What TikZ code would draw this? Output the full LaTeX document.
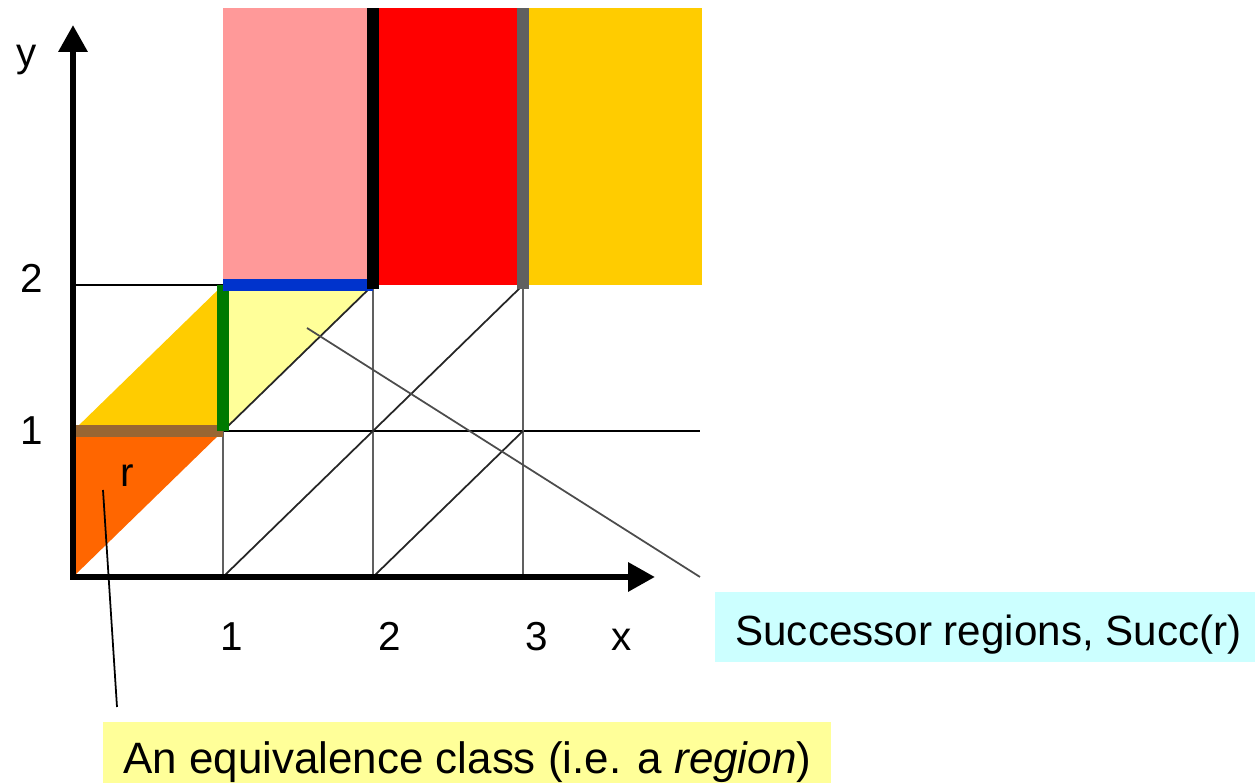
\documentclass[tikz,border=0pt]{standalone}
\usepackage{fontspec}
\setmainfont{Liberation Sans}
\usetikzlibrary{arrows.meta}

\definecolor{regionorange}{HTML}{FF6600}
\definecolor{regiongold}{HTML}{FFCC00}
\definecolor{regionlight}{HTML}{FFFF99}
\definecolor{regionpink}{HTML}{FF9999}
\definecolor{regionred}{HTML}{FF0000}
\definecolor{edgebrown}{HTML}{996633}
\definecolor{edgegreen}{HTML}{007A00}
\definecolor{edgeblue}{HTML}{0033CC}
\definecolor{edgegray}{HTML}{606060}
\definecolor{notecyan}{HTML}{CCFFFF}
\definecolor{noteyellow}{HTML}{FFFF99}

\tikzset{
  % clock-region grid
  hline/.style    = { line width=1pt, black },
  vline/.style    = { line width=1pt, gray!75!black },
  diagline/.style = { line width=1pt, black!85 },
  bound/.style    = { line width=6.5pt },
  axisline/.style = { line width=3.6pt, line join=miter,
                      {Triangle[length=0.54cm,width=0.56cm]}-{Triangle[length=0.54cm,width=0.56cm]} },
  pointer/.style  = { line width=1pt },
  % labels and notes
  ticklabel/.style = { font=\fontsize{23}{26}\selectfont, inner sep=0 },
  notebox/.style   = { font=\fontsize{24}{28}\selectfont, inner xsep=0.4cm,
                       inner ysep=0, anchor=north west }
}

\begin{document}
\begin{tikzpicture}

  \clip (-1.46,-4.12) rectangle (23.64,11.54);

  % --- regions ---------------------------------------------------
  \fill[regionorange] (0,0) -- (0,2.92) -- (3,2.92) -- cycle;
  \fill[regiongold]   (0,2.92) -- (3,5.84) -- (3,2.92) -- cycle;
  \fill[regionlight]  (3,2.92) -- (3,5.84) -- (6,5.84) -- cycle;
  \fill[regionpink]   (3,5.84) rectangle (6,11.38);
  \fill[regionred]    (6,5.84) rectangle (9,11.38);
  \fill[regiongold]   (9,5.84) rectangle (12.58,11.38);

  % --- grid --------------------------------------------------------
  \draw[hline] (0,2.92) -- (12.54,2.92);
  \draw[hline] (0,5.84) -- (3,5.84);
  \foreach \x in {3,6,9}
    \draw[vline] (\x,0) -- (\x,5.84);
  \draw[diagline] (3,2.92) -- (6,5.84);
  \draw[diagline] (3,0) -- (9,5.84);
  \draw[diagline] (6,0) -- (9,2.92);

  % --- region boundaries ---------------------------------------
  \draw[bound, edgebrown] (0,2.92) -- (3,2.92);
  \draw[bound, edgegreen] (3,2.92) -- (3,5.84);
  \draw[bound, edgeblue]  (3,5.84) -- (6,5.84);
  \draw[bound, black]     (6,5.76) -- (6,11.38);
  \draw[bound, edgegray]  (9,5.76) -- (9,11.38);

  % --- axes ------------------------------------------------------
  \draw[axisline] (0,11.04) -- (0,0) -- (11.64,0);

  \node[ticklabel, anchor=base] (ylab) at (-0.92,10.2) {y};
  \node[ticklabel, anchor=base] (ytwo) at (-0.82,5.68)  {2};
  \node[ticklabel, anchor=base] (yone) at (-0.82,2.64)  {1};
  \node[ticklabel, anchor=base] (xone)   at (3.18,-1.48)  {1};
  \node[ticklabel, anchor=base] (xtwo)   at (6.34,-1.48)  {2};
  \node[ticklabel, anchor=base] (xthree) at (9.28,-1.48)  {3};
  \node[ticklabel, anchor=base] (xlab)   at (10.98,-1.48) {x};
  \node[ticklabel] (rlab) at (1.08,2.02) {r};

  % --- notes -----------------------------------------------------
  \coordinate (rin)     at (0.6,1.74);
  \coordinate (rout)    at (0.88,-2.6);
  \coordinate (succin)  at (4.68,4.98);
  \coordinate (succout) at (12.54,0);
  \draw[pointer, black]         (rin) -- (rout);
  \draw[pointer, gray!60!black] (succin) -- (succout);

  \node[notebox, fill=notecyan, text height=1.06cm, text depth=0.34cm]
    (succbox) at (12.84,-0.3) {Successor regions, Succ(r)};
  \node[notebox, fill=noteyellow, text height=1.02cm, text depth=0.6cm,
        font=\fontsize{25}{29}\selectfont]
    (classbox) at (0.6,-2.9) {An equivalence class (i.e. a \textit{region})};

\end{tikzpicture}
\end{document}
